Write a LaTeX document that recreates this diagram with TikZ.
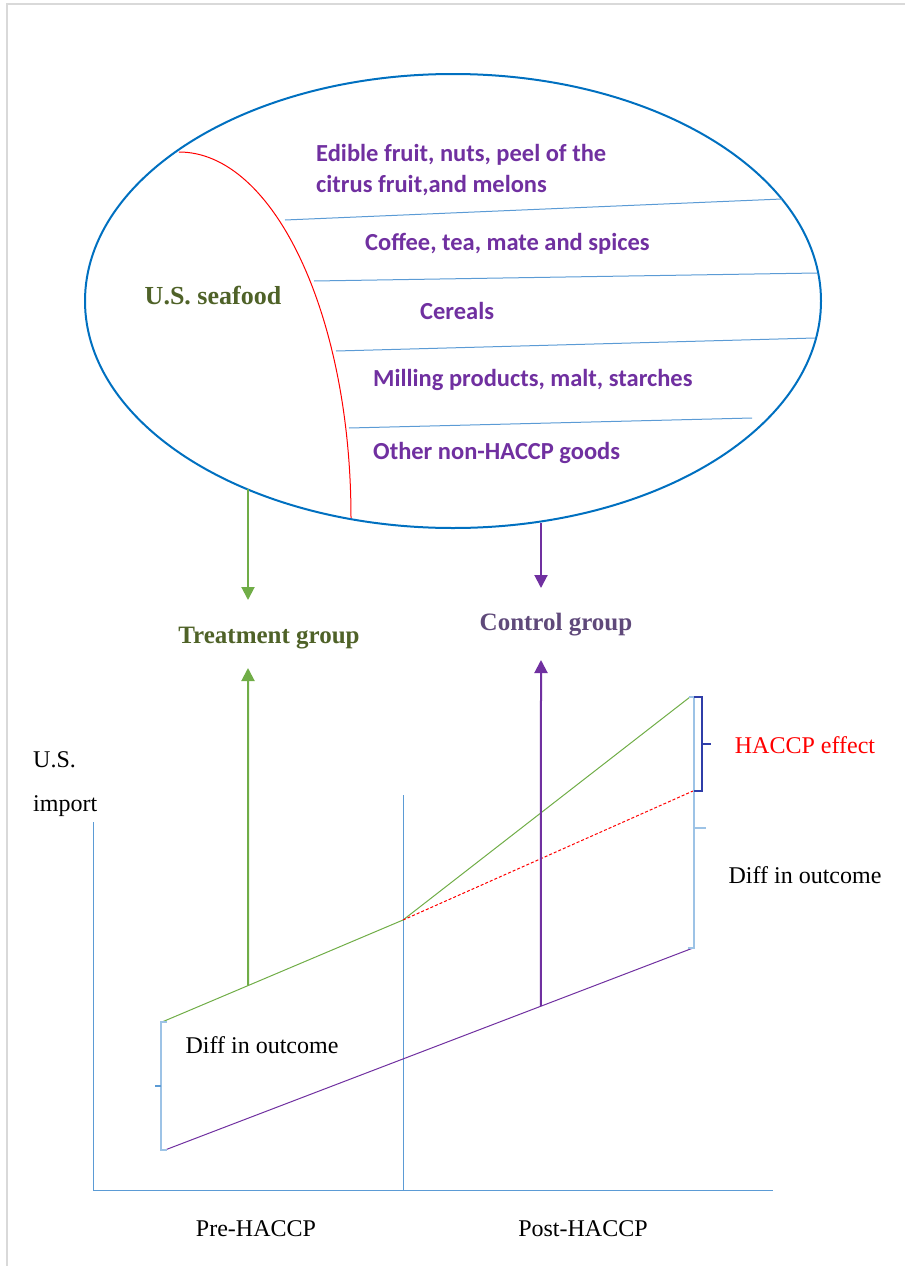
\documentclass[tikz,border=0pt]{standalone}
\usepackage{fontspec}
\setmainfont{Liberation Serif}
\newfontfamily\calibri{Carlito}
\usepackage{xcolor}
\usetikzlibrary{arrows.meta,positioning,shapes.geometric,calc}
\definecolor{ringblue}{HTML}{0070C0}
\definecolor{sepblue}{HTML}{5B9BD5}
\definecolor{paleblue}{HTML}{9DC3E6}
\definecolor{braceblue}{HTML}{2F3DA8}
\definecolor{goodpurple}{HTML}{7030A0}
\definecolor{ctrlpurple}{HTML}{5F497A}
\definecolor{leafgreen}{HTML}{70AD47}
\definecolor{olivetext}{HTML}{4F6228}
\definecolor{framegray}{HTML}{D9D9D9}
\tikzset{
    ring/.style={
        draw=ringblue,
        ellipse,
        line width=2pt,
        inner sep=0pt
    },
    item/.style={
        anchor=west,
        align=left,
        inner sep=0pt,
        text=goodpurple,
        font=\calibri\bfseries\fontsize{24.5}{31}\selectfont
    },
    grouplbl/.style={
        inner sep=0pt,
        font=\bfseries\fontsize{25}{30}\selectfont
    },
    plain/.style={
        inner sep=0pt,
        font=\fontsize{24}{29}\selectfont
    },
    sepline/.style={draw=sepblue, line width=1pt},
    axis/.style={draw=sepblue, line width=1pt},
    bracket/.style={draw=paleblue, line width=2pt},
    greenflow/.style={-{Triangle[width=13pt,length=13pt]}, draw=leafgreen, fill=leafgreen, line width=2pt},
    purpleflow/.style={-{Triangle[width=13pt,length=13pt]}, draw=goodpurple, fill=goodpurple, line width=2pt}
}

\begin{document}
\begin{tikzpicture}[x=1pt, y=-1pt]
        \useasboundingbox (0,0) rectangle (905,1266);
        \draw[framegray, line width=2pt] (7,1266) -- (7,4) -- (905,4);

        \node[ring, minimum width=736pt, minimum height=454pt] (goods) at (453,301) {};
        \draw[red, line width=1pt] (179,152) arc[start angle=90, end angle=0, x radius=172pt, y radius=366pt];
        \draw[sepline] (285,220) -- (782,199);
        \draw[sepline] (314,281) -- (817,273);
        \draw[sepline] (336,351) -- (815,338);
        \draw[sepline] (349,428) -- (752,418);

        \node[grouplbl, text=olivetext, font=\bfseries\fontsize{26}{30}\selectfont] (sea) at (213,296) {U.S. seafood};
        \node[item] (fruit) at (316,170) {Edible fruit, nuts, peel of the\\citrus fruit,and melons};
        \node[item] (coffee) at (365,244) {Coffee, tea, mate and spices};
        \node[item] (cereal) at (420,311) {Cereals};
        \node[item] (mill) at (373,380) {Milling products, malt, starches};
        \node[item] (other) at (373,453) {Other non-HACCP goods};

        \node[grouplbl, text=olivetext] (treat) at (269,638) {Treatment group};
        \node[grouplbl, text=ctrlpurple] (ctrl) at (556,625) {Control group};

        \coordinate (tdown) at (248,600);
        \coordinate (cdown) at (541,588);
        \draw[greenflow] (tdown |- goods.222.6) -- (tdown);
        \draw[purpleflow] (cdown |- goods.291.8) -- (cdown);

        \coordinate (origin) at (93,1190);
        \coordinate (ytop) at (93,822);
        \coordinate (xend) at (773,1190);
        \coordinate (split) at (403,795);
        \draw[axis] (ytop) -- (origin) -- (xend);
        \draw[axis] (split) -- (split |- origin);

        \coordinate (g0) at (162,1022);
        \coordinate (kink) at (403,920);
        \coordinate (g1) at (690,697);
        \coordinate (r1) at (693,791);
        \coordinate (p0) at (165,1150);
        \coordinate (p1) at (693,948);
        \draw[leafgreen, line width=1pt] (g0) -- (kink) -- (g1);
        \draw[red, line width=1pt, dash pattern=on 3pt off 2pt] (kink) -- (r1);
        \draw[goodpurple, line width=1pt] (p0) -- (p1);

        \coordinate (tup) at ($(g0)!0.357!(kink)$);
        \coordinate (cup) at ($(p0)!0.712!(p1)$);
        \coordinate (ttop) at (248,668);
        \coordinate (ctop) at (541,660);
        \draw[greenflow] (tup) -- (ttop);
        \draw[purpleflow] (cup) -- (ctop);

        \draw[bracket] (167,1022) -- (161,1022) -- (161,1150) -- (167,1150);
        \draw[draw=sepblue, line width=2pt] (161,1086) -- (155,1086);
        \draw[bracket] (689,697) -- (694,697) -- (694,948) -- (688,948);
        \draw[bracket] (694,828) -- (706,828);
        \draw[braceblue, line width=1.5pt] (694,697) -- (702,697) -- (702,791) -- (694,791);
        \draw[braceblue, line width=2pt] (702,744) -- (711,744);

        \node[plain, text=red] (effect) at (805,745) {HACCP effect};
        \node[plain] (diffpost) at (805,875) {Diff in outcome};
        \node[plain] (diffpre) at (262,1045) {Diff in outcome};
        \node[plain, anchor=west] (us) at (33,760) {U.S.};
        \node[plain, anchor=west] (imp) at (33,806) {import};
        \node[plain] (pre) at (256,1229) {Pre-HACCP};
        \node[plain] (post) at (583,1229) {Post-HACCP};
    \end{tikzpicture}
\end{document}
